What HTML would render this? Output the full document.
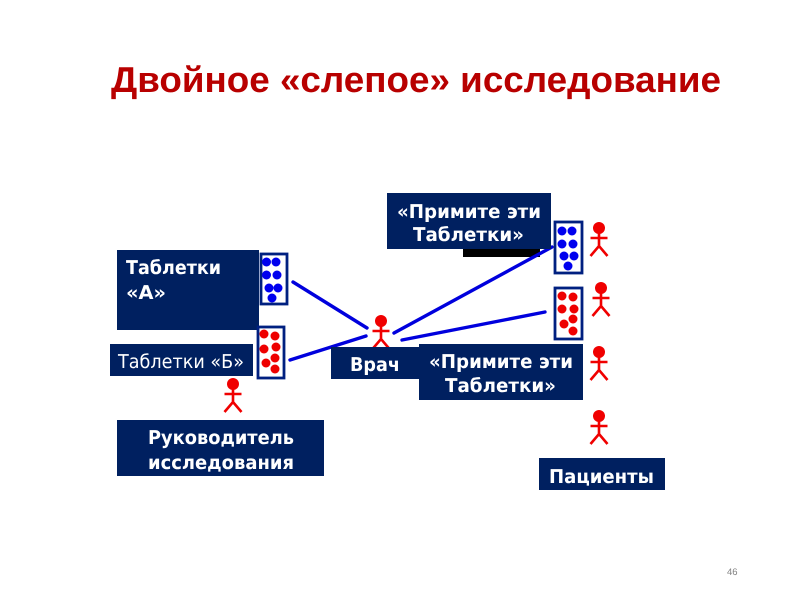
<!DOCTYPE html>
<html><head><meta charset="utf-8"><style>
html,body{margin:0;padding:0;background:#fff}
svg{display:block;text-rendering:geometricPrecision}
.t{font-family:"DejaVu Sans","Liberation Sans",sans-serif;font-weight:bold;font-size:19px;fill:#fff}
.b{fill:#002060}
.fig{stroke:#f00000;stroke-width:2.6;fill:none}
.lin{stroke:#0000dd;stroke-width:3.4;stroke-linecap:round}
.box{fill:#fff;stroke:#002080;stroke-width:2.8}
</style></head><body>
<svg width="800" height="600" viewBox="0 0 800 600" xmlns="http://www.w3.org/2000/svg">
<defs>
<g id="f" class="fig"><circle cx="0" cy="0" r="6" fill="#f00000" stroke="none"/><path d="M0 4V19M-8.5 10H8.5M-8.5 28L0 18L8.5 28"/></g>
</defs>
<text x="111" y="92" font-family="Liberation Sans,sans-serif" font-weight="bold" font-size="36px" fill="#b80000" textLength="610" lengthAdjust="spacingAndGlyphs">Двойное «слепое» исследование</text>

<rect x="463" y="245" width="77" height="12" fill="#000"/>
<line class="lin" x1="293" y1="282" x2="367" y2="328"/>
<line class="lin" x1="290" y1="360" x2="366" y2="336"/>
<line class="lin" x1="394" y1="333" x2="552" y2="247"/>
<line class="lin" x1="402" y1="340" x2="545" y2="312"/>

<rect class="b" x="117" y="250" width="142" height="80"/>
<rect class="b" x="110" y="344" width="143" height="32"/>
<rect class="b" x="117" y="420" width="207" height="56"/>
<rect class="b" x="387" y="193" width="164" height="56"/>
<rect class="b" x="539" y="458" width="126" height="32"/>

<rect class="box" x="261" y="254" width="26" height="50"/>
<g fill="#0000ee"><circle cx="266.5" cy="262" r="4.5"/><circle cx="276" cy="262" r="4.5"/><circle cx="266.5" cy="275" r="4.5"/><circle cx="277" cy="275" r="4.5"/><circle cx="269" cy="288" r="4.5"/><circle cx="278" cy="288" r="4.5"/><circle cx="272" cy="298" r="4.5"/></g>
<rect class="box" x="258" y="327" width="26" height="51"/>
<g fill="#ee0000"><circle cx="264" cy="334" r="4.5"/><circle cx="275" cy="336" r="4.5"/><circle cx="264" cy="349" r="4.5"/><circle cx="276" cy="347" r="4.5"/><circle cx="275" cy="358" r="4.5"/><circle cx="266" cy="363" r="4.5"/><circle cx="275" cy="369" r="4.5"/></g>
<rect class="box" x="555" y="222" width="27" height="51"/>
<g fill="#0000ee"><circle cx="562" cy="231" r="4.5"/><circle cx="572" cy="231" r="4.5"/><circle cx="562" cy="244" r="4.5"/><circle cx="573" cy="244" r="4.5"/><circle cx="564" cy="256" r="4.5"/><circle cx="574" cy="256" r="4.5"/><circle cx="568" cy="266" r="4.5"/></g>
<rect class="box" x="555" y="288" width="27" height="51"/>
<g fill="#ee0000"><circle cx="562" cy="296" r="4.5"/><circle cx="573" cy="297" r="4.5"/><circle cx="562" cy="309" r="4.5"/><circle cx="574" cy="309" r="4.5"/><circle cx="573" cy="319" r="4.5"/><circle cx="564" cy="324" r="4.5"/><circle cx="573" cy="331" r="4.5"/></g>

<use href="#f" x="233" y="384"/>
<use href="#f" x="381" y="321"/>
<use href="#f" x="599" y="228"/>
<use href="#f" x="601" y="288"/>
<use href="#f" x="599" y="352"/>
<use href="#f" x="599" y="416"/>

<rect class="b" x="331" y="347" width="90" height="32"/>
<rect class="b" x="419" y="344" width="164" height="56"/>

<text class="t" x="126" y="274" textLength="95" lengthAdjust="spacingAndGlyphs">Таблетки</text>
<text class="t" x="126" y="299" textLength="40" lengthAdjust="spacingAndGlyphs">«А»</text>
<text class="t" x="118" y="368" style="font-weight:normal" textLength="126" lengthAdjust="spacingAndGlyphs">Таблетки «Б»</text>
<text class="t" x="148" y="444" textLength="146" lengthAdjust="spacingAndGlyphs">Руководитель</text>
<text class="t" x="148" y="469" textLength="146" lengthAdjust="spacingAndGlyphs">исследования</text>
<text class="t" x="397" y="218" textLength="144" lengthAdjust="spacingAndGlyphs">«Примите эти</text>
<text class="t" x="413" y="241" textLength="111" lengthAdjust="spacingAndGlyphs">Таблетки»</text>
<text class="t" x="350" y="371" textLength="50" lengthAdjust="spacingAndGlyphs">Врач</text>
<text class="t" x="429" y="368" textLength="144" lengthAdjust="spacingAndGlyphs">«Примите эти</text>
<text class="t" x="445" y="392" textLength="111" lengthAdjust="spacingAndGlyphs">Таблетки»</text>
<text class="t" x="549" y="483" textLength="105" lengthAdjust="spacingAndGlyphs">Пациенты</text>
<text x="727" y="575" font-family="Liberation Sans,sans-serif" font-size="9.5px" fill="#808080">46</text>
</svg>
</body></html>
